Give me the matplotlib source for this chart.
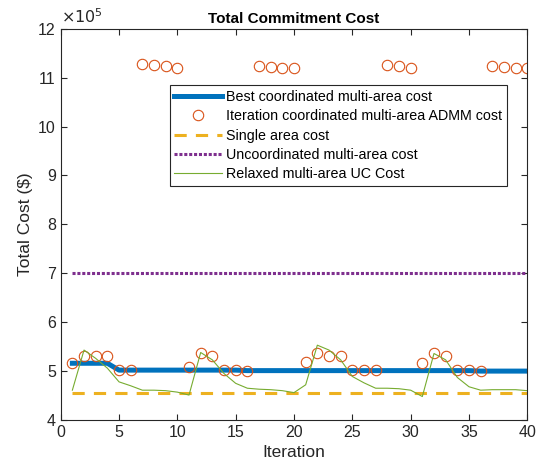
import numpy as np
import matplotlib
matplotlib.use("Agg")
import matplotlib.pyplot as plt

plt.rcParams["font.family"] = ["Liberation Sans", "DejaVu Sans"]

# data (units of 1e5 $)
iterations = list(range(1, 41))

admm_cost = [5.16, 5.31, 5.31, 5.31, 5.02, 5.03, 11.28, 11.26, 11.24, 11.20,
             5.09, 5.36, 5.31, 5.03, 5.03, 5.01, 11.23, 11.21, 11.20, 11.19,
             5.19, 5.36, 5.31, 5.31, 5.03, 5.03, 5.03, 11.25, 11.23, 11.20,
             5.16, 5.36, 5.31, 5.03, 5.03, 5.00, 11.24, 11.21, 11.20, 11.19]

relaxed_cost = [4.61, 5.43, 5.26, 5.06, 4.78, 4.70, 4.61, 4.61, 4.60, 4.57,
                4.51, 5.38, 5.23, 4.95, 4.75, 4.65, 4.63, 4.62, 4.60, 4.56,
                4.72, 5.53, 5.43, 5.23, 4.89, 4.76, 4.65, 4.65, 4.64, 4.61,
                4.48, 5.36, 5.23, 4.87, 4.68, 4.61, 4.62, 4.62, 4.62, 4.60]

single_area = 4.55
uncoordinated = 7.00

# best cost found so far
best_cost = list(np.minimum.accumulate(admm_cost))

x = np.array(iterations)
dark = "#262626"

fig = plt.figure(figsize=(5.41, 4.67), dpi=100)
ax = fig.add_axes([0.1122, 0.1006, 0.8625, 0.838])

ax.plot(x, best_cost, color="#0072BD", lw=3.6,
        label="Best coordinated multi-area cost")
ax.plot(x, admm_cost, "o", mfc="none", mec="#D95319", ms=7.5, mew=0.8,
        label="Iteration coordinated multi-area ADMM cost")
ax.plot(x, np.full(len(x), single_area), color="#EDB120", lw=2.2,
        ls=(0, (4, 3)), label="Single area cost")
ax.plot(x, np.full(len(x), uncoordinated), color="#7E2F8E", lw=2.2,
        ls=(0, (1, 0.6)), label="Uncoordinated multi-area cost")
ax.plot(x, relaxed_cost, color="#77AC30", lw=0.8,
        label="Relaxed multi-area UC Cost")

ax.set_xlim(0, 40)
ax.set_ylim(4, 12)
ax.set_xticks(range(0, 41, 5))
ax.set_yticks(range(4, 13))

ax.tick_params(direction="in", top=True, right=True, labelsize=11.5,
               colors=dark, length=4, width=0.8)
for s in ax.spines.values():
    s.set_linewidth(0.8)
    s.set_color(dark)

# exponent label like MATLAB
ax.text(0.0, 1.008, r"$\times10^5$", transform=ax.transAxes, fontsize=11.5,
        color=dark, ha="left", va="bottom")

ax.set_xlabel("Iteration", fontsize=12.5, color=dark)
ax.set_ylabel("Total Cost ($)", fontsize=12.5, color=dark)
ax.set_title("Total Commitment Cost", fontsize=11, fontweight="bold", pad=4)

leg = ax.legend(loc="upper left", bbox_to_anchor=(0.234, 0.855),
                fontsize=10.3, handlelength=3.35, handletextpad=0.3,
                borderpad=0.3, labelspacing=0.38, borderaxespad=0,
                fancybox=False, framealpha=1)
leg.get_frame().set_edgecolor(dark)
leg.get_frame().set_linewidth(0.8)

plt.savefig("out.png", dpi=100)
